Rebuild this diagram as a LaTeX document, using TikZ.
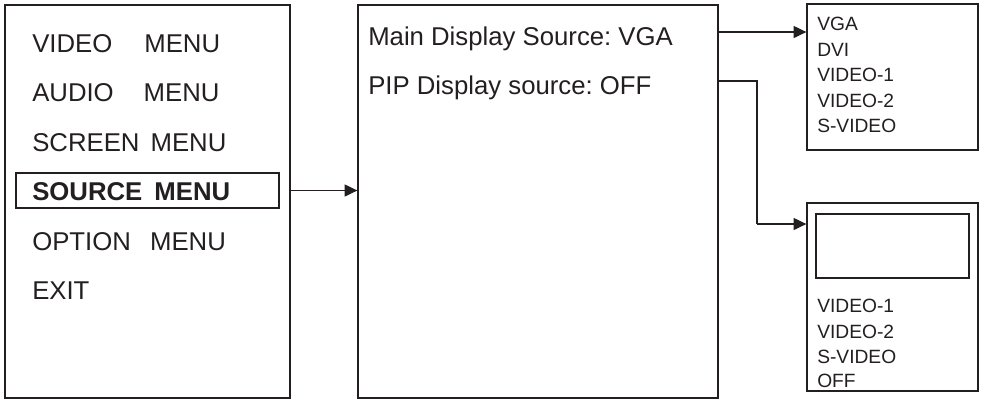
\documentclass[tikz,border=0pt]{standalone}
\usepackage{fontspec}
\setmainfont{Liberation Sans}
\usetikzlibrary{fit,arrows.meta}
\definecolor{ink}{HTML}{231F20}
\frenchspacing
\begin{document}
\begin{tikzpicture}[x=0.75pt,y=-0.75pt,
  box/.style={draw=ink,line width=1pt,inner sep=0pt},
  big/.style={anchor=base west,inner sep=0pt,text=ink,font=\fontsize{19.3}{23}\selectfont},
  small/.style={anchor=base west,inner sep=0pt,text=ink,font=\fontsize{14.4}{17}\selectfont},
  arr/.style={draw=ink,line width=0.8pt,-{Triangle[length=9.5pt,width=9pt]}},
  conn/.style={draw=ink,line width=0.8pt}]
\useasboundingbox (0,0) rectangle (983,401);
% boxes
\node[box,fit={(5,5) (290,398)}] (menu) {};
\node[box,fit={(358,5) (718,398)}] (disp) {};
\node[box,fit={(807,4) (978,150)}] (mainlist) {};
\node[box,fit={(807,203) (978,391)}] (piplist) {};
\node[box,line width=0.9pt,fit={(816,214) (969,278)}] (pipwin) {};
\node[box,line width=0.9pt,fit={(16,173) (279,208)}] (srcbox) {};
% menu texts
\node[big] (t1) at (32,52) {VIDEO\hspace{24pt}MENU};
\node[big] (t2) at (32,101.5) {AUDIO\hspace{22.5pt}MENU};
\node[big] (t3) at (32,151) {SCREEN\hspace{3pt} MENU};
\node[big,font=\fontsize{19.3}{23}\selectfont\bfseries] (t4) at (32,200.5) {SOURCE\hspace{3.75pt} MENU};
\node[big] (t5) at (32,250) {OPTION\hspace{9pt} MENU};
\node[big] (t6) at (32,299.5) {EXIT};
% display texts
\node[big] (d1) at (368,45) {Main Display Source: VGA};
\node[big] (d2) at (368,94) {PIP Display source: OFF};
% lists
\node[small] (a1) at (817,30.5) {VGA};
\node[small] (a2) at (817,56.5) {DVI};
\node[small] (a3) at (817,81.7) {VIDEO-1};
\node[small] (a4) at (817,107) {VIDEO-2};
\node[small] (a5) at (817,132) {S-VIDEO};
\node[small] (b1) at (817,312.7) {VIDEO-1};
\node[small] (b2) at (817,338) {VIDEO-2};
\node[small] (b3) at (817,363) {S-VIDEO};
\node[small] (b4) at (817,387.5) {OFF};
% connectors
\coordinate (c1) at (718,32);
\coordinate (c2) at (718,81);
\coordinate (c3) at (757,224);
\draw[arr] (srcbox.east -| menu.east) -- (srcbox.east -| disp.west);
\draw[arr] (c1) -- (c1 -| mainlist.west);
\draw[conn] (c2) -| (c3);
\draw[arr] (c3) -- (c3 -| piplist.west);
\end{tikzpicture}
\end{document}
